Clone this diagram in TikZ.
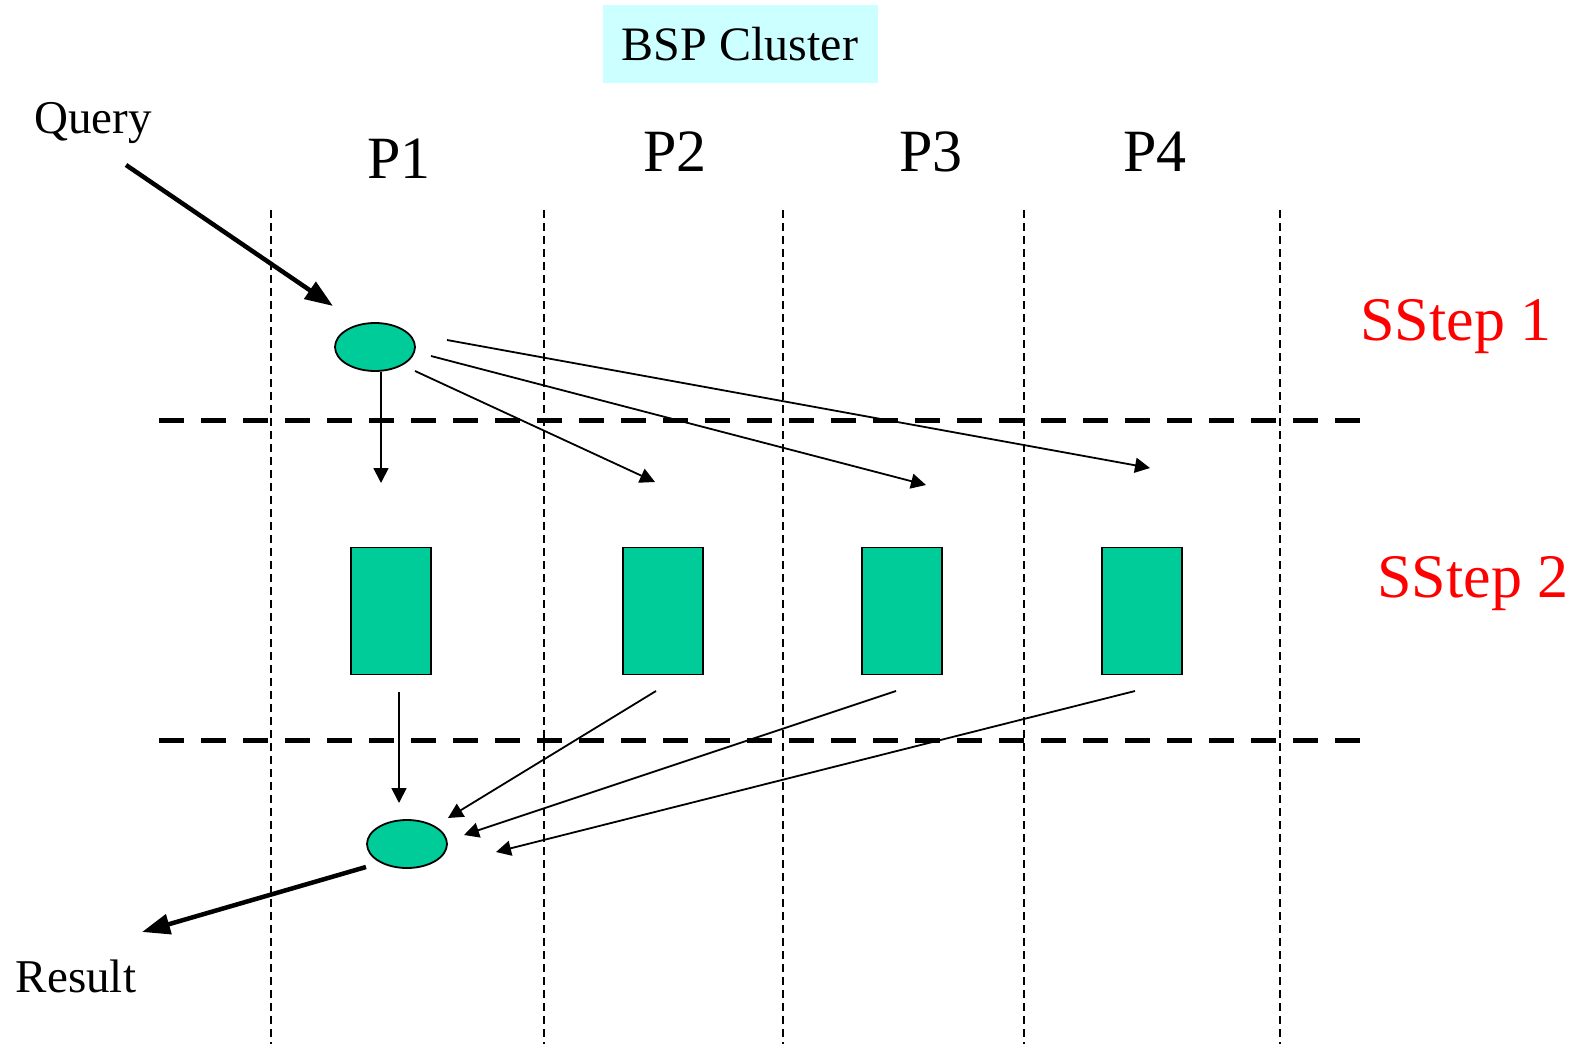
\documentclass[tikz,border=0pt]{standalone}
\usepackage{fontspec}
\setmainfont{Liberation Serif}
\usetikzlibrary{arrows.meta,shapes.geometric}
\definecolor{tealgreen}{RGB}{0,204,153}
\definecolor{lightcyan}{RGB}{204,255,255}
\definecolor{sstepred}{RGB}{255,0,0}

\begin{document}
\begin{tikzpicture}[x=1pt,y=-1pt,
  lane/.style={line width=1.4pt, dash pattern=on 8pt off 5pt},
  barrier/.style={line width=5pt, dash pattern=on 25pt off 17pt},
  task/.style={draw, line width=1.8pt, fill=tealgreen, minimum width=80pt, minimum height=127pt, inner sep=0pt},
  token/.style={ellipse, draw, line width=1.8pt, fill=tealgreen, minimum width=80pt, minimum height=48pt, inner sep=0pt},
  msg/.style={line width=1.8pt, -{Triangle[length=15pt,width=15pt]}},
  io/.style={line width=4.5pt, -{Triangle[length=28pt,width=20pt]}},
  proc/.style={font=\fontsize{60}{66}\selectfont},
  label/.style={font=\fontsize{47}{52}\selectfont},
  sstep/.style={font=\fontsize{62}{68}\selectfont, text=sstepred},
]
\useasboundingbox (0,0) rectangle (1585,1044);

% processor lanes
\foreach \x in {271,544,783,1024,1280}
  \draw[lane] (\x,210) -- (\x,1044);

% superstep barriers
\draw[barrier] (159,420) -- (1362,420);
\draw[barrier] (159,740) -- (1362,740);

% title
\node[fill=lightcyan, minimum width=275pt, minimum height=78pt, inner sep=0pt,
      font=\fontsize{48}{53}\selectfont] (title) at (740,44) {BSP Cluster};

% processor labels
\node[proc] (p1) at (399,159) {P1};
\node[proc] (p2) at (675,152) {P2};
\node[proc] (p3) at (931,152) {P3};
\node[proc] (p4) at (1155,152) {P4};

% superstep labels
\node[sstep] (s1) at (1456,327) {SStep 1};
\node[sstep] (s2) at (1473,584) {SStep 2};

% query / result
\node[label] (query) at (93,123) {Query};
\node[label] (result) at (76,976) {Result};

% query token and result token
\node[token] (e1) at (375,347) {};
\node[token] (e2) at (407,844) {};

% local computations
\node[task] (r1) at (391,611) {};
\node[task] (r2) at (663,611) {};
\node[task] (r3) at (902,611) {};
\node[task] (r4) at (1142,611) {};

% connector end points
\coordinate (qs) at (126,165);
\coordinate (qt) at (333,306);
\coordinate (rs) at (366,867);
\coordinate (rt) at (142,932);

\coordinate (a1s) at (381,372);
\coordinate (a1t) at (381,483);
\coordinate (a2s) at (415,371);
\coordinate (a2t) at (655,482);
\coordinate (a3s) at (431,356);
\coordinate (a3t) at (926,485);
\coordinate (a4s) at (447,340);
\coordinate (a4t) at (1150,468);

\coordinate (b1s) at (399,692);
\coordinate (b1t) at (399,803);
\coordinate (b2s) at (656,691);
\coordinate (b2t) at (448,818);
\coordinate (b3s) at (896,691);
\coordinate (b3t) at (464,835);
\coordinate (b4s) at (1135,691);
\coordinate (b4t) at (496,852);

% query in, result out
\draw[io] (qs) -- (qt);
\draw[io] (rs) -- (rt);

% superstep 1 messages
\draw[msg] (a1s) -- (a1t);
\draw[msg] (a2s) -- (a2t);
\draw[msg] (a3s) -- (a3t);
\draw[msg] (a4s) -- (a4t);

% superstep 2 messages
\draw[msg] (b1s) -- (b1t);
\draw[msg] (b2s) -- (b2t);
\draw[msg] (b3s) -- (b3t);
\draw[msg] (b4s) -- (b4t);
\end{tikzpicture}
\end{document}
